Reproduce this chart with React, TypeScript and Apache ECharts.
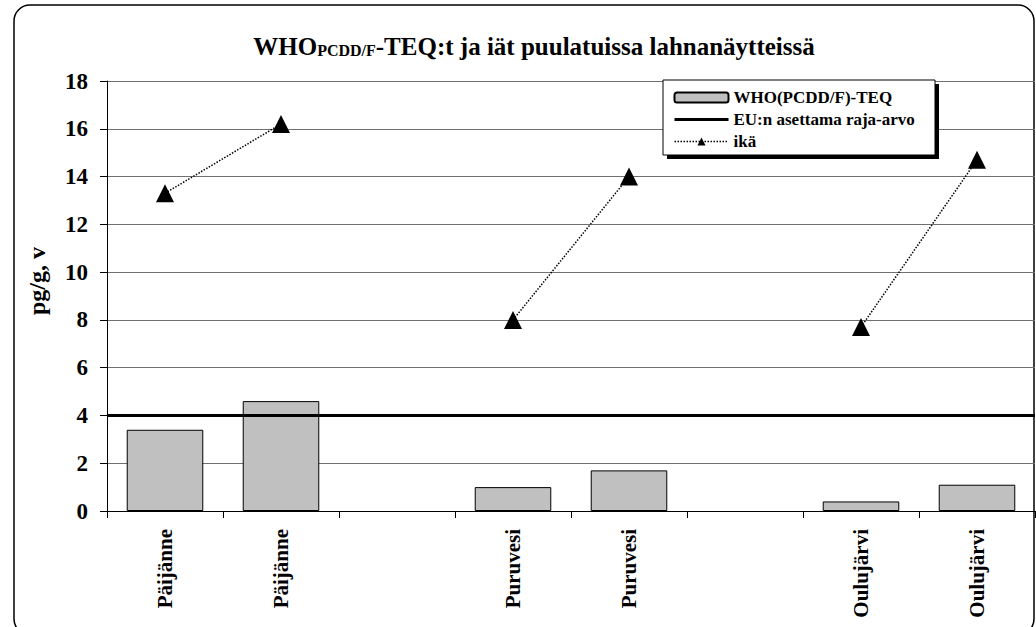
import React, { useEffect, useRef } from "react";
import * as echarts from "echarts";

const categories = ["Päijänne", "Päijänne", "", "Puruvesi", "Puruvesi", "", "Oulujärvi", "Oulujärvi"];
const teqValues = [3.4, 4.6, null, 1.0, 1.7, null, 0.4, 1.1];
const ageValues = [13.3, 16.2, null, 8.0, 14.0, null, 7.7, 14.7];
const euLimit = 4;
const yTicks = { min: 0, max: 18, interval: 2 };

const FONT = "Liberation Serif";

export default function App() {
  const ref = useRef<HTMLDivElement>(null);
  useEffect(() => {
    document.body.style.margin = "0";
    const chart = echarts.init(ref.current!, null, { renderer: "svg" });
    chart.setOption({
      animation: false,
      textStyle: { fontFamily: FONT },
      title: {
        text: "{a|WHO}{b|PCDD/F}{a|-TEQ:t ja iät puulatuissa lahnanäytteissä}",
        left: 529,
        textAlign: "center",
        top: 27,
        textStyle: {
          rich: {
            a: { fontFamily: FONT, fontWeight: "bold", fontSize: 25, color: "#000", lineHeight: 28 },
            b: { fontFamily: FONT, fontWeight: "bold", fontSize: 16, color: "#000", lineHeight: 28, padding: [9, 0, 0, 0] },
          },
        },
      },
      graphic: [
        {
          type: "rect",
          shape: { x: 14, y: 5, width: 1020, height: 630, r: 16 },
          style: { fill: "none", stroke: "#000", lineWidth: 1.5 },
          silent: true,
          z: -10,
        },
        {
          type: "rect",
          shape: { x: 667, y: 84, width: 272, height: 75 },
          style: { fill: "#000" },
          z: 90,
        },
        {
          type: "rect",
          shape: { x: 663, y: 80, width: 272, height: 75 },
          style: { fill: "#fff", stroke: "#000", lineWidth: 1 },
          z: 91,
        },
      ],
      legend: {
        orient: "vertical",
        left: 668,
        top: 84,
        itemWidth: 54,
        itemHeight: 10,
        itemGap: 5,
        z: 100,
        textStyle: { fontFamily: FONT, fontWeight: "bold", fontSize: 17, color: "#000" },
        data: [
          { name: "WHO(PCDD/F)-TEQ" },
          {
            name: "EU:n asettama raja-arvo",
            itemStyle: { color: "rgba(0,0,0,0)", borderWidth: 0, opacity: 0 },
            lineStyle: { width: 3, color: "#000" },
          },
          { name: "ikä", lineStyle: { width: 1.5, color: "#000", type: "dotted" } },
        ],
      },
      grid: { left: 107, right: 1, top: 81, bottom: 116 },
      xAxis: {
        type: "category",
        data: categories,
        boundaryGap: true,
        axisLine: { lineStyle: { color: "#000", width: 1 } },
        axisTick: { show: true, length: 7, inside: false, lineStyle: { color: "#000" } },
        axisLabel: {
          rotate: 90,
          interval: 0,
          margin: 18,
          fontFamily: FONT,
          fontWeight: "bold",
          fontSize: 21,
          color: "#000",
        },
      },
      yAxis: {
        type: "value",
        min: yTicks.min,
        max: yTicks.max,
        interval: yTicks.interval,
        name: "pg/g, v",
        nameLocation: "middle",
        nameGap: 58,
        nameTextStyle: { fontFamily: FONT, fontWeight: "bold", fontSize: 24, color: "#000", padding: [0, 0, 0, 30] },
        axisLine: { show: true, lineStyle: { color: "#000", width: 1 } },
        axisTick: { show: true, length: 7, lineStyle: { color: "#000" } },
        axisLabel: { fontFamily: FONT, fontWeight: "bold", fontSize: 23, color: "#000", margin: 19 },
        splitLine: { show: true, lineStyle: { color: "#707070", width: 1 } },
      },
      series: [
        {
          name: "WHO(PCDD/F)-TEQ",
          type: "bar",
          data: teqValues,
          barWidth: "66%",
          itemStyle: { color: "#c0c0c0", borderColor: "#000", borderWidth: 1 },
          z: 2,
        },
        {
          name: "EU:n asettama raja-arvo",
          type: "line",
          data: [],
          symbol: "none",
          lineStyle: { color: "#000", width: 3 },
          itemStyle: { color: "#000" },
          markLine: {
            silent: true,
            symbol: "none",
            label: { show: false },
            lineStyle: { color: "#000", width: 3, type: "solid" },
            data: [{ yAxis: euLimit }],
          },
          z: 3,
        },
        {
          name: "ikä",
          type: "line",
          data: ageValues,
          connectNulls: false,
          symbol: "triangle",
          symbolSize: 18,
          itemStyle: { color: "#000" },
          lineStyle: { color: "#000", width: 1.5, type: "dotted" },
          z: 4,
        },
      ],
    });
    return () => chart.dispose();
  }, []);
  return <div ref={ref} style={{ position: "absolute", left: 0, top: 0, width: 1036, height: 627 }} />;
}
